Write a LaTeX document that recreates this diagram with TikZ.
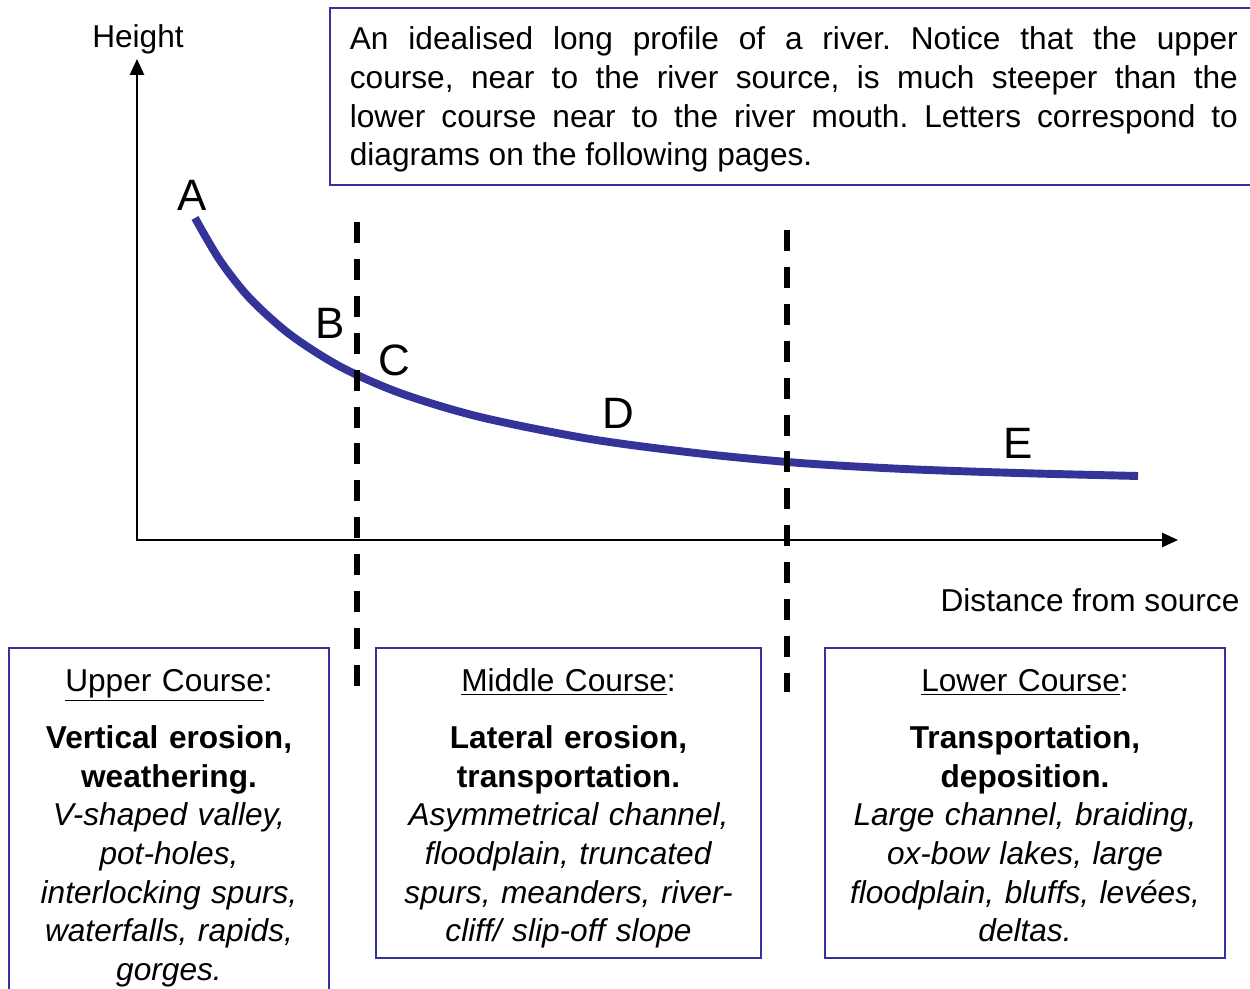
\documentclass[tikz,border=0pt]{standalone}
\usepackage{fontspec}
\setmainfont{Liberation Sans}
\usetikzlibrary{arrows.meta}
\definecolor{riverblue}{RGB}{51,51,153}
\newcommand{\txtsize}{\fontsize{18}{22}\selectfont\frenchspacing}
\newcommand{\firstline}{\rule{0pt}{17.7pt}}
\newcommand{\lastline}[1]{\smash{#1}\rule[-2pt]{0pt}{0pt}}

\begin{document}
\begin{tikzpicture}[
    infobox/.style={draw=riverblue,line width=1pt,font=\txtsize},
    course/.style={infobox,align=center,anchor=north,inner xsep=0.2cm,inner ysep=0.25cm},
    divide/.style={line width=3.2pt,dash pattern=on 12pt off 9pt},
    letter/.style={font=\fontsize{25}{30}\selectfont},
  ]
  \useasboundingbox (0,0) rectangle (25,19.78);
  \begin{scope}
    % axes
    \coordinate (origin) at (2.74,8.98);
    \coordinate (ytop) at (2.74,18.6);
    \coordinate (xend) at (23.56,8.98);
    \draw[line width=1.1pt,{Triangle[length=9pt,width=8pt]}-{Triangle[length=9pt,width=8pt]}] (ytop) -- (origin) -- (xend);
    \node[font=\txtsize] (height) at (2.76,19.0) {Height};
    \node[font=\txtsize] (distance) at (21.80,7.78) {Distance from source};

    % long profile
    \draw[riverblue,line width=4.5pt] plot[smooth,tension=0.5] coordinates {(3.90,15.42) (4.40,14.57) (5.00,13.81) (5.80,13.09) (6.80,12.45) (8.00,11.92) (9.60,11.44) (11.80,11.00) (14.00,10.71) (16.00,10.52) (18.08,10.40) (20.34,10.32) (22.76,10.26)};

    % course boundaries
    \coordinate (d1top) at (7.14,15.34);
    \coordinate (d1bot) at (7.14,5.98);
    \coordinate (d2top) at (15.74,15.18);
    \coordinate (d2bot) at (15.74,5.94);
    \draw[divide] (d1top) -- (d1bot);
    \draw[divide] (d2top) -- (d2bot);

    \node[letter] (A) at (3.84,15.88) {A};
    \node[letter] (B) at (6.60,13.32) {B};
    \node[letter] (C) at (7.88,12.58) {C};
    \node[letter] (D) at (12.36,11.52) {D};
    \node[letter] (E) at (20.36,10.92) {E};

    \node[infobox,anchor=west,text width=17.76cm,align=justify,inner xsep=0.4cm,inner ysep=0.25cm] (note) at (6.58,17.85)
      {\rule{0pt}{16.5pt}An idealised long profile of a river. Notice that the upper\linebreak
       course, near to the river source, is much steeper than the\linebreak
       lower course near to the river mouth. Letters correspond to\linebreak
       diagrams on the following pages.};

    \node[course,text width=6.0cm] (upper) at (3.38,6.84)
      {\firstline\underline{Upper Course}:\\[10.5pt]
       \textbf{Vertical erosion,}\\ \textbf{weathering.}\\
       \textit{V-shaped valley,}\\ \textit{pot-holes,}\\
       \textit{interlocking spurs,}\\ \textit{waterfalls, rapids,}\\ \textit{gorges.}};
    \node[course,text width=7.3cm] (middle) at (11.37,6.84)
      {\firstline\underline{Middle Course}:\\[10.5pt]
       \textbf{Lateral erosion,}\\ \textbf{transportation.}\\
       \textit{Asymmetrical channel,}\\ \textit{floodplain, truncated}\\
       \textit{spurs, meanders, river-}\\ \lastline{\textit{cliff/ slip-off slope}}};
    \node[course,text width=7.6cm] (lower) at (20.50,6.84)
      {\firstline\underline{Lower Course}:\\[10.5pt]
       \textbf{Transportation,}\\ \textbf{deposition.}\\
       \textit{Large channel, braiding,}\\ \textit{ox-bow lakes, large}\\
       \textit{floodplain, bluffs, levées,}\\ \lastline{\textit{deltas.}}};
  \end{scope}
\end{tikzpicture}
\end{document}
